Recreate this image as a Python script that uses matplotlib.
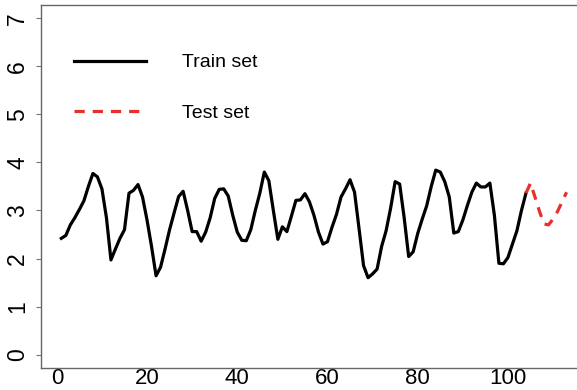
import matplotlib
matplotlib.use('Agg')
import matplotlib.pyplot as plt

# values
train_x = list(range(1, 105))
train_y = [2.42, 2.48, 2.70, 2.85, 3.02, 3.20, 3.50, 3.77, 3.70, 3.45,
           2.85, 1.97, 2.20, 2.42, 2.60, 3.36, 3.42, 3.54, 3.28, 2.80,
           2.25, 1.64, 1.82, 2.20, 2.60, 2.95, 3.29, 3.40, 3.00, 2.56,
           2.56, 2.36, 2.55, 2.85, 3.25, 3.44, 3.45, 3.30, 2.90, 2.55,
           2.38, 2.37, 2.60, 3.00, 3.36, 3.80, 3.62, 3.00, 2.40, 2.66,
           2.56, 2.88, 3.21, 3.22, 3.35, 3.18, 2.90, 2.55, 2.30, 2.35,
           2.65, 2.92, 3.28, 3.45, 3.64, 3.38, 2.62, 1.85, 1.60, 1.68,
           1.78, 2.25, 2.58, 3.05, 3.60, 3.55, 2.85, 2.04, 2.14, 2.52,
           2.82, 3.10, 3.50, 3.84, 3.80, 3.60, 3.28, 2.53, 2.56, 2.80,
           3.10, 3.38, 3.57, 3.49, 3.49, 3.57, 2.90, 1.90, 1.89, 2.02,
           2.30, 2.58, 3.00, 3.36]
test_x = list(range(104, 114))
test_y = [3.36, 3.57, 3.28, 2.98, 2.72, 2.70, 2.82, 2.98, 3.18, 3.38]

x_ticks = [0, 20, 40, 60, 80, 100]
y_ticks = [0, 1, 2, 3, 4, 5, 6, 7]
labels = ['Train set', 'Test set']

plt.rcParams['font.family'] = ['Liberation Sans', 'DejaVu Sans']

fig = plt.figure(figsize=(5.77, 3.90), dpi=100)
ax = fig.add_axes([0.0711, 0.0564, 0.946, 0.931])

red = '#e5302c'
ax.plot(train_x, train_y, color='black', lw=2.3, label=labels[0],
        solid_joinstyle='round')
ax.plot(test_x, test_y, color=red, lw=2.3, dashes=(3.2, 2.5), label=labels[1])

ax.set_xlim(-3.5, 117.5)
ax.set_ylim(-0.28, 7.28)
ax.set_xticks(x_ticks)
ax.set_yticks(y_ticks)

ax.tick_params(axis='y', length=3.6, width=0.8, color='#777777',
               labelsize=16.5, pad=5, labelrotation=90)
for t in ax.get_yticklabels():
    t.set_va('center')
ax.tick_params(axis='x', length=0, labelsize=16, pad=0)

for side in ['top', 'left', 'bottom']:
    ax.spines[side].set_color('#666666')
    ax.spines[side].set_linewidth(1.0)
ax.spines['right'].set_visible(False)

leg = ax.legend(loc='upper left', bbox_to_anchor=(0.046, 0.887), frameon=False,
                fontsize=14, handlelength=3.7, handletextpad=1.85,
                labelspacing=1.68, borderaxespad=0)

fig.savefig('out.png', dpi=100)
